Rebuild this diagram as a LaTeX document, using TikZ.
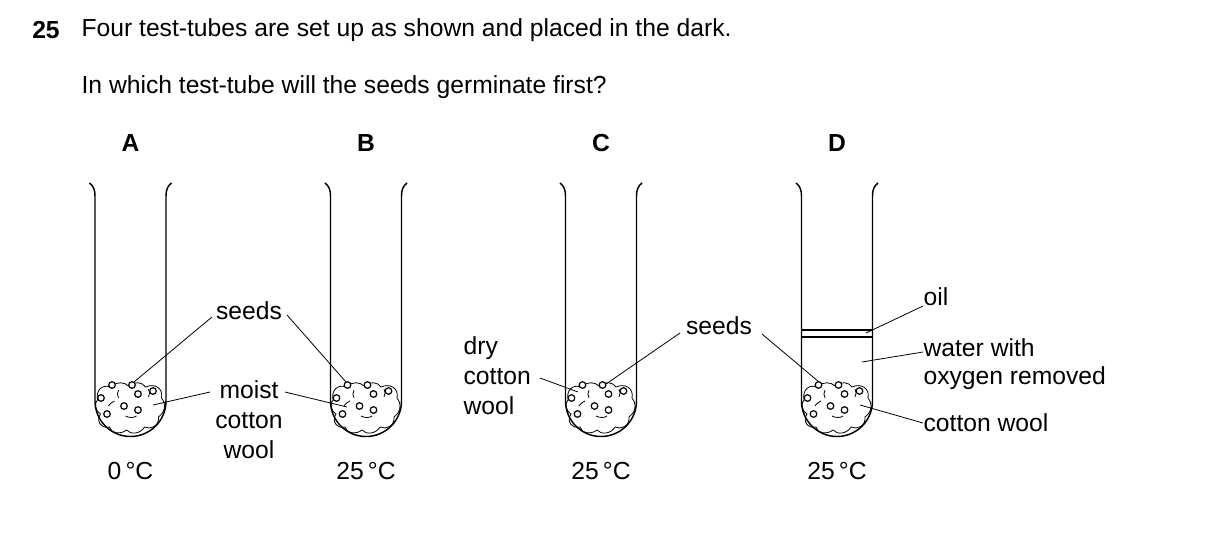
\documentclass[tikz,border=0pt]{standalone}
\usepackage{fontspec}
\setmainfont{Liberation Sans}
\begin{document}
\begin{tikzpicture}[x=0.75pt,y=-0.75pt,
  lbl/.style={font=\fontsize{18.5}{22.5}\selectfont,inner sep=1pt},
  hd/.style={font=\fontsize{18.5}{22.5}\selectfont\bfseries,inner sep=0pt},
  tube/.style={line width=1.1pt},
  thin/.style={line width=0.6pt},
  seed/.style={line width=0.9pt}]
\useasboundingbox (0,0) rectangle (1209,540);
\node[hd,anchor=west] (q) at (32,30) {25};
\node[lbl,anchor=west] (t1) at (80,30) {Four test-tubes are set up as shown and placed in the dark.};
\node[lbl,anchor=west] (t2) at (80,87) {In which test-tube will the seeds germinate first?};
\foreach \c/\L/\T [count=\i] in {130.5/A/0\,°C,366/B/25\,°C,601/C/25\,°C,837/D/25\,°C}{
  \node[hd] (L\i) at (\c,143) {\L};
  \node[lbl] (T\i) at (\c,471) {\T};
  \draw[tube] (\c-41,183) .. controls (\c-37,186) and (\c-35.5,190) .. (\c-35.5,196)
     -- (\c-35.5,401) arc[start angle=180,end angle=0,radius=35.5] -- (\c+35.5,196)
     .. controls (\c+35.5,190) and (\c+37,186) .. (\c+41,183);
  % cotton wool
  \draw[thin] (\c-33,400) .. controls (\c-35,390) and (\c-28,384) .. (\c-20,387)
    .. controls (\c-14,381) and (\c-6,382) .. (\c-2,386)
    .. controls (\c+4,381) and (\c+12,382) .. (\c+15,387)
    .. controls (\c+24,383) and (\c+33,388) .. (\c+31,398)
    .. controls (\c+37,405) and (\c+33,414) .. (\c+28,417)
    .. controls (\c+29,426) and (\c+20,430) .. (\c+14,427)
    .. controls (\c+10,434) and (\c,435) .. (\c-4,430)
    .. controls (\c-10,435) and (\c-20,433) .. (\c-21,427)
    .. controls (\c-29,429) and (\c-35,421) .. (\c-30,414)
    .. controls (\c-36,410) and (\c-36,403) .. (\c-33,400);
  \draw[thin] (\c-12,398) arc[start angle=150,end angle=210,radius=8];
  \draw[thin] (\c+18,397) arc[start angle=30,end angle=-30,radius=8];
  \draw[thin] (\c-5,416) .. controls (\c-1,418) and (\c+3,418) .. (\c+6,416);
  \draw[thin] (\c-22,406) .. controls (\c-20,403) and (\c-18,402) .. (\c-16,401);
  \foreach \dx/\y in {-18.5/385,1.5/385,22.5/391,7.5/394,-29.5/398,-6.5/406,7.5/410,-23.5/414}
    \draw[seed,fill=white] (\c+\dx,\y) circle[radius=3.3];
}
% oil in D
\draw[tube] (801.5,330) -- (872.5,330);
\draw[tube] (801.5,337) -- (872.5,337);
% anchors
\coordinate (sA) at (134,382); \coordinate (sB) at (346,382);
\coordinate (wA) at (153,405); \coordinate (wB) at (347,407);
\coordinate (wC) at (578,392); \coordinate (sC) at (606,384);
\coordinate (sD) at (819,382); \coordinate (oD) at (866,333);
\coordinate (waD) at (862,362); \coordinate (cD) at (860,405);
\node[lbl] (seeds1) at (249,311) {seeds};
\node[lbl,align=center] (moist) at (249,420) {moist\\cotton\\wool};
\node[lbl,align=left,anchor=west] (dry) at (462,376) {dry\\cotton\\wool};
\node[lbl] (seeds2) at (719,326) {seeds};
\node[lbl,anchor=west] (oil) at (922,297) {oil};
\node[lbl,align=left,anchor=west] (water) at (922,364) {water with\\[-1pt]oxygen removed};
\node[lbl,anchor=west] (cw) at (922,423) {cotton wool};
\draw[thin] (212,317) -- (sA);
\draw[thin] (287,315) -- (sB);
\draw[thin] (210,392) -- (wA);
\draw[thin] (285,392) -- (wB);
\draw[thin] (540,378) -- (wC);
\draw[thin] (680,333) -- (sC);
\draw[thin] (762,334) -- (sD);
\draw[thin] (923,306) -- (oD);
\draw[thin] (923,352) -- (waD);
\draw[thin] (923,423) -- (cD);
\end{tikzpicture}
\end{document}
